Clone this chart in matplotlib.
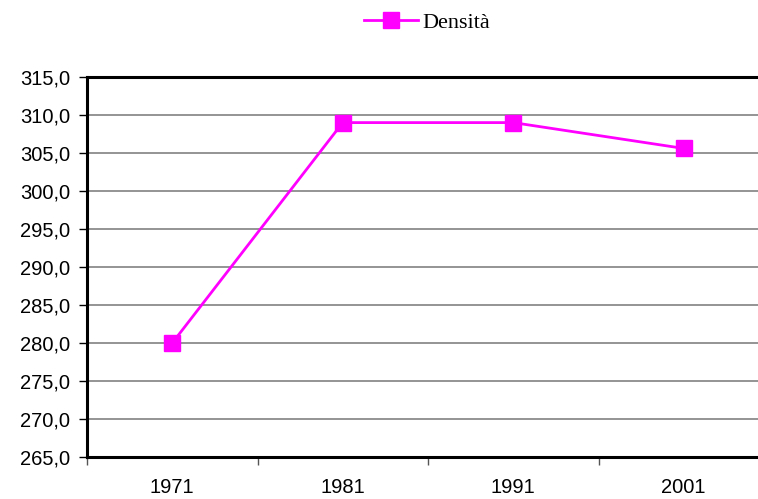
import matplotlib
matplotlib.use('Agg')
import matplotlib.pyplot as plt

anni = ['1971', '1981', '1991', '2001']
densita = [280.0, 309.0, 309.0, 305.6]
y_ticks = [265 + 5 * i for i in range(11)]

fig = plt.figure(figsize=(7.58, 4.99), dpi=100)
ax = fig.add_axes([87 / 758, 42 / 499, 682 / 758, 380 / 499])

ax.plot(range(len(anni)), densita, color='#ff00ff', lw=2, marker='s', ms=11,
        label='Densità', zorder=3)

ax.set_xlim(-0.5, 3.5)
ax.set_ylim(265, 315)
ax.set_yticks(y_ticks)
ax.set_yticklabels([f'{v:.1f}'.replace('.', ',') for v in y_ticks],
                   family='Liberation Sans', fontsize=14.5)
ax.set_xticks([-0.5, 0.5, 1.5, 2.5, 3.5])
ax.set_xticklabels([])
ax.set_xticks(range(len(anni)), minor=True)
ax.set_xticklabels(anni, minor=True, family='Liberation Sans', fontsize=14.5)
ax.tick_params(axis='x', which='major', direction='out', length=6, width=1, color='#555555')
ax.tick_params(axis='x', which='minor', length=0, pad=15)
ax.tick_params(axis='y', direction='out', length=6, width=1, pad=6)
ax.grid(axis='y', color='#777777', lw=1.1, zorder=0)
for s in ['left', 'bottom', 'top']:
    ax.spines[s].set_linewidth(2.2)
    ax.spines[s].set_color('black')
ax.spines['right'].set_visible(False)

fig.legend(loc='center', bbox_to_anchor=(427 / 758, 1 - 23 / 499), frameon=False,
           prop={'family': 'Liberation Serif', 'size': 16}, handlelength=2.4,
           handletextpad=0.2, markerscale=1.0)

plt.savefig('out.png', dpi=100)
